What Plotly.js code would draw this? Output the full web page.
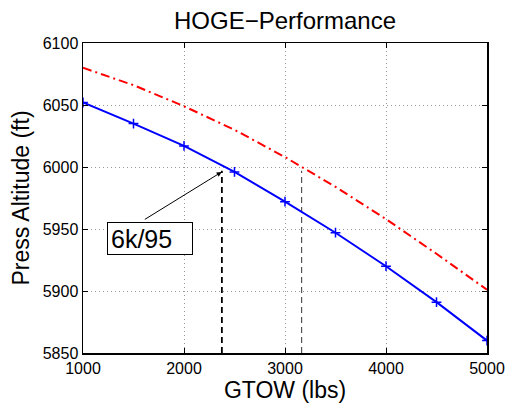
<!DOCTYPE html>
<html>
<head>
<meta charset="utf-8">
<script src="https://cdn.plot.ly/plotly-3.0.1.min.js"></script>
<style>html,body{margin:0;padding:0;background:#fff;}#chart{width:510px;height:404px;}</style>
</head>
<body>
<div id="chart"></div>
<script>
// GTOW (lbs)
const gtow = [1000, 1500, 2000, 2500, 3000, 3500, 4000, 4500, 5000];
// Press altitude (ft), solid blue curve with + markers
const altBlue = [6052, 6035, 6017, 5996, 5972, 5947, 5920, 5891, 5860];
// Press altitude (ft), red dash-dot curve
const altRed = [6080, 6066, 6049, 6030, 6008, 5984, 5958, 5930, 5901];
// Guide lines (dashed verticals)
const guide1X = [2375, 2375];
const guide1Y = [5850, 5997];
const guide2X = [3165, 3165];
const guide2Y = [5850, 5997];
// Annotation
const labelText = '6k/95';
const labelPos = [1663, 5942];
const arrowTail = [1597, 5957];
const arrowHead = [2373, 5996];
const xTicks = [1000, 2000, 3000, 4000, 5000];
const yTicks = [5850, 5900, 5950, 6000, 6050, 6100];

const font = 'Liberation Sans, Arial, Helvetica, sans-serif';

const traces = [
  {x: guide1X, y: guide1Y, mode: 'lines', line: {color: '#000', width: 1.8, dash: '6px,4px'}, hoverinfo: 'skip'},
  {x: guide2X, y: guide2Y, mode: 'lines', line: {color: '#333', width: 1, dash: '6px,4px'}, hoverinfo: 'skip'},
  {x: gtow, y: altRed, mode: 'lines', line: {color: '#ff0000', width: 2, dash: '9px,4px,2px,4px'}},
  {x: gtow, y: altBlue, mode: 'lines+markers', line: {color: '#0000ff', width: 2},
   marker: {symbol: 'cross-thin', size: 7, color: '#0000ff', line: {color: '#0000ff', width: 1.5}}}
];

const axisCommon = {
  showline: true, linecolor: '#000', linewidth: 1.5, mirror: 'ticks',
  ticks: 'inside', ticklen: 5, tickcolor: '#000', tickwidth: 1,
  showgrid: true, gridcolor: '#999', griddash: '1px,3px', gridwidth: 1,
  zeroline: false, tickfont: {family: font, size: 16, color: '#000'}
};

const layout = {
  width: 510, height: 404,
  margin: {l: 83, r: 23, t: 43, b: 51},
  paper_bgcolor: '#fff', plot_bgcolor: '#fff',
  showlegend: false,
  title: {text: 'HOGE\u2212Performance', font: {family: font, size: 24, color: '#000'},
          x: 0.5589, xanchor: 'center', y: 0.95, yanchor: 'middle'},
  xaxis: Object.assign({}, axisCommon, {
    range: [1000, 5000], tickvals: xTicks, ticktext: xTicks.map(String),
    title: {text: 'GTOW (lbs)', font: {family: font, size: 23, color: '#000'}, standoff: 2}
  }),
  yaxis: Object.assign({}, axisCommon, {
    range: [5850, 6100], tickvals: yTicks, ticktext: yTicks.map(String),
    title: {text: 'Press Altitude (ft)', font: {family: font, size: 23, color: '#000'}, standoff: 6}
  }),
  annotations: [
    {x: arrowHead[0], y: arrowHead[1], xref: 'x', yref: 'y',
     ax: arrowTail[0], ay: arrowTail[1], axref: 'x', ayref: 'y',
     text: '', showarrow: true, arrowhead: 2, arrowsize: 1, arrowwidth: 1, arrowcolor: '#000'},
    {x: labelPos[0], y: labelPos[1], xref: 'x', yref: 'y', text: labelText, showarrow: false,
     font: {family: font, size: 25, color: '#000'}, align: 'left',
     width: 78, height: 25, borderpad: 3, bordercolor: '#000', borderwidth: 1, bgcolor: '#fff'}
  ]
};

Plotly.newPlot('chart', traces, layout, {staticPlot: true, displayModeBar: false});
</script>
</body>
</html>
